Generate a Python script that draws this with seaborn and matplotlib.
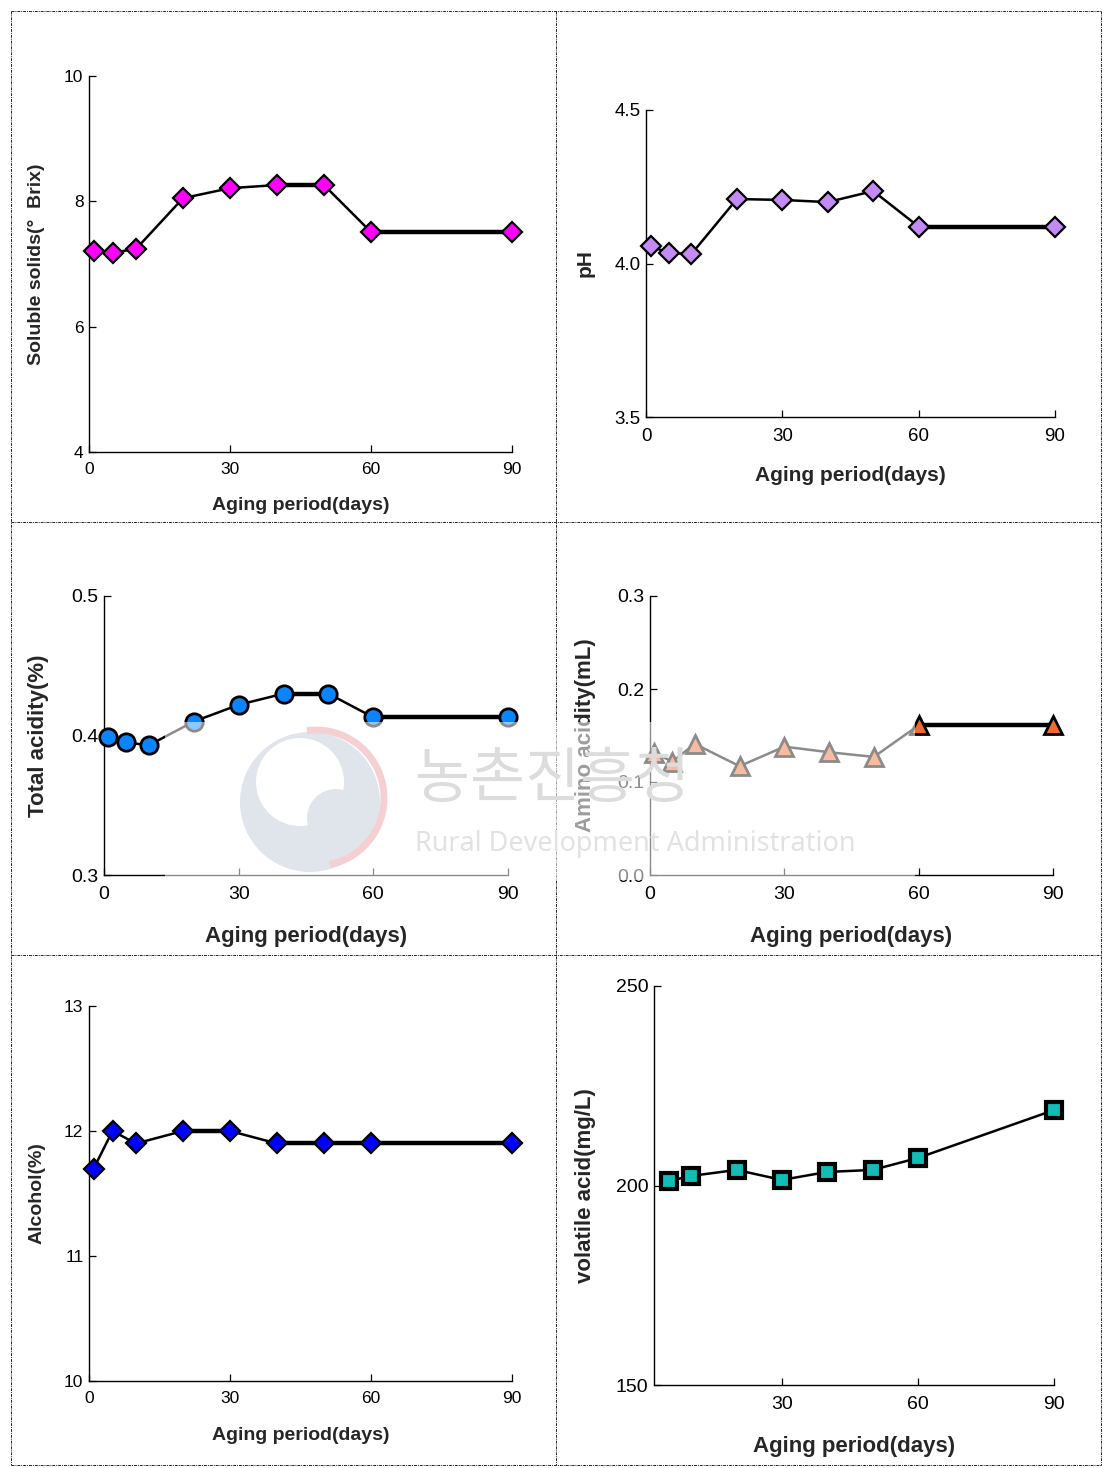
import numpy as np
import pandas as pd
import matplotlib
matplotlib.use('Agg')
import matplotlib.pyplot as plt
from matplotlib.lines import Line2D
from matplotlib.patches import Rectangle, Ellipse, Arc
import seaborn as sns

days = [1, 5, 10, 20, 30, 40, 50, 60, 90]
brix = [7.21, 7.18, 7.24, 8.05, 8.21, 8.26, 8.26, 7.51, 7.51]
ph = [4.057, 4.034, 4.031, 4.21, 4.207, 4.20, 4.236, 4.12, 4.12]
total_acidity = [0.399, 0.395, 0.393, 0.410, 0.422, 0.430, 0.430, 0.413, 0.413]
amino_acidity = [0.131, 0.122, 0.141, 0.117, 0.138, 0.132, 0.127, 0.161, 0.161]
alcohol = [11.7, 12.0, 11.9, 12.0, 12.0, 11.9, 11.9, 11.9, 11.9]
days_va = [5, 10, 20, 30, 40, 50, 60, 90]
volatile_acid = [201.1, 202.4, 203.9, 201.4, 203.4, 203.9, 206.9, 218.9]

xlabel = 'Aging period(days)'

sns.set_style('ticks')
plt.rcParams['font.family'] = ['Liberation Sans', 'DejaVu Sans']

W, H = 1112, 1468
fig = plt.figure(figsize=(W / 100, H / 100), dpi=100)


def box(l, r, t, b):
    return [l / W, 1 - b / H, (r - l) / W, (b - t) / H]


# each panel: data, axes box (px), style
panels = [
    dict(x=days, y=brix, box=box(89, 512, 76, 452), ylim=(4, 10), yticks=[4, 6, 8, 10], fmt='{:.0f}',
         xlim=(0, 90), xticks=[0, 30, 60, 90], ylabel='Soluble solids(°  Brix)',
         marker='D', fc='#ff00ff', ms=10.5, mew=1.6, ec='black', lc='black',
         tick=12.5, pad=7, lab=14, ylc=(-0.123, 0.5), xlc=(0.5, -0.143)),
    dict(x=days, y=ph, box=box(646, 1055, 110, 417), ylim=(3.5, 4.5), yticks=[3.5, 4.0, 4.5], fmt='{:.1f}',
         xlim=(0, 90), xticks=[0, 30, 60, 90], ylabel='pH',
         marker='D', fc='#c48af5', ms=10.5, mew=1.6, ec='black', lc='black',
         tick=13.5, pad=8, lab=15, ylc=(-0.15, 0.5), xlc=(0.5, -0.19)),
    dict(x=days, y=total_acidity, box=box(104, 508, 596, 875), ylim=(0.3, 0.5), yticks=[0.3, 0.4, 0.5], fmt='{:.1f}',
         xlim=(0, 90), xticks=[0, 30, 60, 90], ylabel='Total acidity(%)',
         marker='o', fc='#0a84ff', ms=12.5, mew=2, ec='black', lc='black',
         tick=14, pad=8, lab=16, ylc=(-0.163, 0.5), xlc=(0.5, -0.219)),
    dict(x=days, y=amino_acidity, box=box(650, 1053, 596, 875), ylim=(0.0, 0.3), yticks=[0.0, 0.1, 0.2, 0.3], fmt='{:.1f}',
         xlim=(0, 90), xticks=[0, 30, 60, 90], ylabel='Amino acidity(mL)',
         marker='^', fc='#f26a2e', ms=12.5, mew=2, ec='black', lc='black',
         tick=14, pad=8, lab=16, ylc=(-0.161, 0.5), xlc=(0.5, -0.219)),
    dict(x=days, y=alcohol, box=box(89, 512, 1006, 1381), ylim=(10, 13), yticks=[10, 11, 12, 13], fmt='{:.0f}',
         xlim=(0, 90), xticks=[0, 30, 60, 90], ylabel='Alcohol(%)',
         marker='D', fc='#0000ff', ms=10.5, mew=1.6, ec='black', lc='black',
         tick=12.5, pad=7, lab=14, ylc=(-0.123, 0.5), xlc=(0.5, -0.144)),
    dict(x=days_va, y=volatile_acid, box=box(654, 1054, 986, 1385), ylim=(150, 250), yticks=[150, 200, 250], fmt='{:.0f}',
         xlim=(1.8, 90), xticks=[30, 60, 90], ylabel='volatile acid(mg/L)',
         marker='s', fc='#12bdb8', ms=11.5, mew=3, ec='black', lc='black',
         tick=14, pad=8, lab=16, ylc=(-0.17, 0.5), xlc=(0.5, -0.153)),
]

for p in panels:
    ax = fig.add_axes(p['box'])
    x, y = p['x'], p['y']
    # flat stretches render heavier in the original
    for i in range(len(y) - 1):
        if y[i] == y[i + 1]:
            ax.plot(x[i:i + 2], y[i:i + 2], color=p['lc'], lw=3.2, zorder=2, clip_on=False,
                    solid_capstyle='butt')
    sns.lineplot(x=x, y=y, ax=ax, color=p['lc'], lw=1.8, marker=p['marker'], markersize=p['ms'],
                 markerfacecolor=p['fc'], markeredgecolor=p['ec'], markeredgewidth=p['mew'],
                 zorder=3, clip_on=False)
    ax.set_xlim(*p['xlim'])
    ax.set_ylim(*p['ylim'])
    ax.set_xticks(p['xticks'])
    ax.set_yticks(p['yticks'])
    ax.set_yticklabels([p['fmt'].format(v) for v in p['yticks']])
    ax.set_xticklabels([str(v) for v in p['xticks']])
    ax.tick_params(direction='in', length=5, width=0.9, labelsize=p['tick'], colors='black')
    ax.tick_params(axis='x', pad=p['pad'])
    ax.tick_params(axis='y', pad=4)
    sns.despine(ax=ax)
    for s in ['left', 'bottom']:
        ax.spines[s].set_linewidth(1.0)
        ax.spines[s].set_color('black')
    ax.set_xlabel(xlabel, fontsize=p['lab'], fontweight='bold', va='center')
    ax.set_ylabel(p['ylabel'], fontsize=p['lab'], fontweight='bold', va='center')
    ax.xaxis.set_label_coords(*p['xlc'])
    ax.yaxis.set_label_coords(*p['ylc'])
    ax.patch.set_alpha(0)

# dotted cell borders
ls = (0, (3, 1, 1, 1))
def hline(yp, x0=11, x1=1101):
    fig.add_artist(Line2D([x0 / W, x1 / W], [1 - yp / H, 1 - yp / H], lw=0.7, color='#222222', ls=ls))
def vline(xp, y0=11, y1=1465):
    fig.add_artist(Line2D([xp / W, xp / W], [1 - y0 / H, 1 - y1 / H], lw=0.7, color='#222222', ls=ls))
for yp in [11, 522, 955, 1465]:
    hline(yp)
for xp in [11, 556, 1101]:
    vline(xp)

# faint watermark over the middle row
fig.add_artist(Rectangle((165 / W, 1 - 880 / H), 750 / W, 158 / H, transform=fig.transFigure,
                         facecolor='white', alpha=0.55, edgecolor='none', zorder=5))
fig.add_artist(Ellipse((310 / W, 1 - 802 / H), 140 / W, 140 / H, transform=fig.transFigure,
                       facecolor='#dfe5eb', edgecolor='none', zorder=6))
fig.add_artist(Ellipse((300 / W, 1 - 782 / H), 88 / W, 88 / H, transform=fig.transFigure,
                       facecolor='white', edgecolor='none', zorder=6))
fig.add_artist(Ellipse((336 / W, 1 - 818 / H), 58 / W, 58 / H, transform=fig.transFigure,
                       facecolor='#dfe5eb', edgecolor='none', zorder=6))
fig.add_artist(Arc((316 / W, 1 - 798 / H), 136 / W, 136 / H, theta1=-75, theta2=100,
                   transform=fig.transFigure, color='#f5d0d3', lw=5, zorder=6))
fig.text(415 / W, 1 - 780 / H, '농촌진흥청', family=['Noto Sans CJK KR', 'DejaVu Sans'], fontsize=43,
         color='#dcdcdc', va='center', ha='left', zorder=7)
fig.text(415 / W, 1 - 844 / H, 'Rural Development Administration', family=['Noto Sans', 'DejaVu Sans'],
         fontsize=19.5, color='#e2e2e2', va='center', ha='left', zorder=7)

fig.savefig('out.png', dpi=100, facecolor='white')
